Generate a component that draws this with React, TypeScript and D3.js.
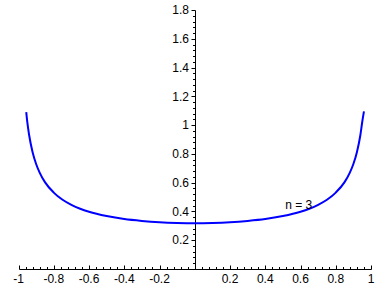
import React from "react";
import * as d3 from "d3";

const xValues = [-0.956, -0.95, -0.94, -0.92, -0.9, -0.88, -0.85, -0.8, -0.75, -0.7, -0.65, -0.6, -0.5, -0.4, -0.3, -0.2, -0.1, 0, 0.1, 0.2, 0.3, 0.4, 0.5, 0.6, 0.65, 0.7, 0.75, 0.8, 0.85, 0.88, 0.9, 0.92, 0.94, 0.95, 0.96];
const yValues = [1.09, 1.02, 0.933, 0.812, 0.73, 0.67, 0.604, 0.531, 0.481, 0.446, 0.419, 0.398, 0.368, 0.347, 0.334, 0.325, 0.32, 0.318, 0.32, 0.325, 0.334, 0.347, 0.368, 0.398, 0.419, 0.446, 0.481, 0.531, 0.604, 0.67, 0.73, 0.812, 0.933, 1.02, 1.095];
const xTickLabels = ["-1", "-0.8", "-0.6", "-0.4", "-0.2", "0.2", "0.4", "0.6", "0.8", "1"];
const yTickLabels = ["0.2", "0.4", "0.6", "0.8", "1", "1.2", "1.4", "1.6", "1.8"];
const curveLabel = "n = 3";
const labelPos = [0.513, 0.417];

const W = 388;
const H = 288;

export default function App() {
  const x = d3.scaleLinear().domain([-1, 1]).range([18.5, 371]);
  const y = d3.scaleLinear().domain([0, 1.8]).range([269, 10]);
  const pts: [number, number][] = xValues.map((v, i) => [v, yValues[i]]);
  const line = d3
    .line<[number, number]>()
    .x((d) => x(d[0]))
    .y((d) => y(d[1]))
    .curve(d3.curveMonotoneX);

  const minorX = d3.range(0, 51).map((i) => -1 + i * 0.04);
  const minorY = d3.range(1, 46).map((i) => i * 0.04);
  const font = "'Liberation Sans', Arial, sans-serif";
  const x0 = Math.round(x(0)) + 0.5;
  const y0 = Math.round(y(0)) + 0.5;

  return (
    <svg
      width={W}
      height={H}
      style={{ position: "absolute", left: 0, top: 0, background: "#fff" }}
    >
      <rect width={W} height={H} fill="#fff" />
      <line x1={Math.round(x(-1)) + 0.5} x2={Math.round(x(1)) + 0.5} y1={y0} y2={y0} stroke="#000" />
      {minorX.map((v, i) => {
        const major = i % 5 === 0;
        const px = Math.round(x(v)) + 0.5;
        return <line key={"mx" + i} x1={px} x2={px} y1={y0} y2={y0 - (major ? 4 : 2.5)} stroke="#000" />;
      })}
      {xTickLabels.map((t) => (
        <text key={"xl" + t} x={x(+t)} y={283} fontSize={12} fontFamily={font} textAnchor="middle" fill="#000">
          {t}
        </text>
      ))}
      <line x1={x0} x2={x0} y1={Math.round(y(1.8)) + 0.5} y2={y0} stroke="#000" />
      {minorY.map((v, i) => {
        const major = (i + 1) % 5 === 0;
        const py = Math.round(y(v)) + 0.5;
        return <line key={"my" + i} x1={x0} x2={x0 - (major ? 4 : 2.5)} y1={py} y2={py} stroke="#000" />;
      })}
      {yTickLabels.map((t) => (
        <text key={"yl" + t} x={189} y={y(+t)} dy="0.35em" fontSize={12} fontFamily={font} textAnchor="end" fill="#000">
          {t}
        </text>
      ))}
      <path d={line(pts) || ""} fill="none" stroke="#0000ff" strokeWidth={2} />
      <text x={x(labelPos[0])} y={y(labelPos[1])} fontSize={12} fontFamily={font} fill="#000">
        {curveLabel}
      </text>
    </svg>
  );
}
